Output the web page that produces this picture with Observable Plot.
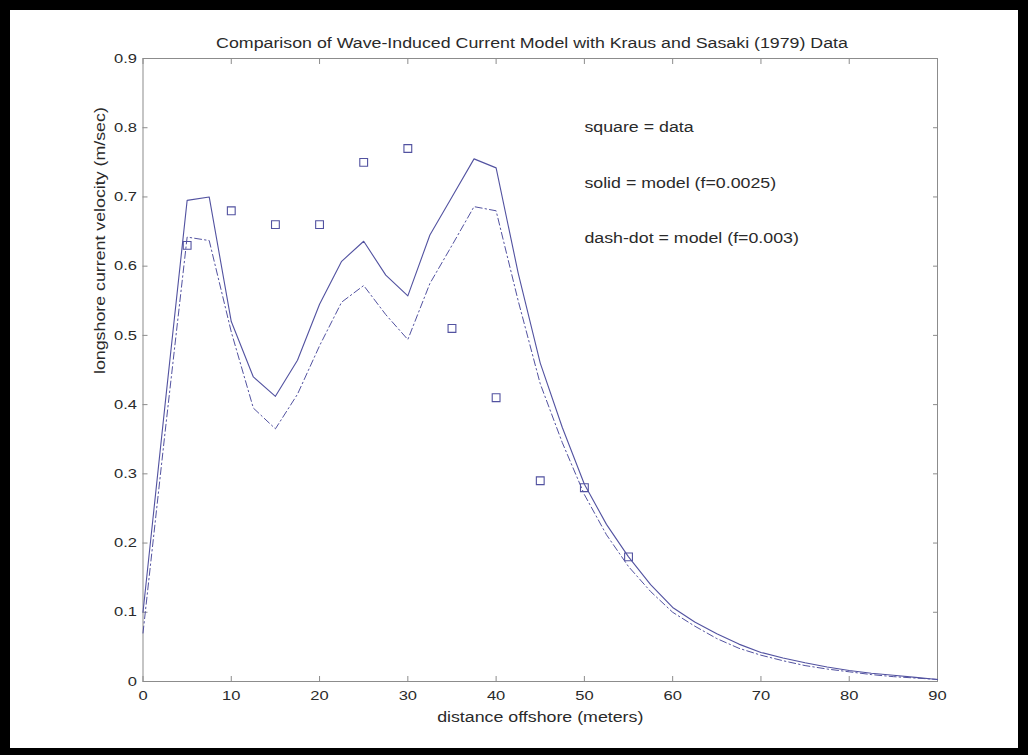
<!DOCTYPE html>
<html>
<head>
<meta charset="utf-8">
<script src="https://cdn.jsdelivr.net/npm/d3@7"></script>
<script src="https://cdn.jsdelivr.net/npm/@observablehq/plot@0.6"></script>
<style>
html, body { margin: 0; padding: 0; background: #fff; }
#wrap { position: relative; width: 1028px; height: 755px; overflow: hidden; background: #fff;
        font-family: "Liberation Sans", Arial, Helvetica, sans-serif; }
#frame { position: absolute; left: 0; top: 0; width: 1028px; height: 755px; box-sizing: border-box;
         border-style: solid; border-color: #000; border-width: 10px 10px 7px 10px; pointer-events: none; z-index: 5; }
#title { position: absolute; left: 532px; top: 35px; white-space: nowrap; font-size: 14px; color: #2a2a2a;
         transform: translateX(-50%) scaleX(1.27); transform-origin: center; line-height: 16px; }
#chart { position: absolute; left: 0; top: 50px; }
</style>
</head>
<body>
<div id="wrap">
  <div id="title">Comparison of Wave-Induced Current Model with Kraus and Sasaki (1979) Data</div>
  <div id="chart"></div>
  <div id="frame"></div>
</div>
<script>
// ---- data ----
const xModel = [0, 2.5, 5, 7.5, 10, 12.5, 15, 17.5, 20, 22.5, 25, 27.5, 30, 32.5, 35, 37.5, 40,
                42.5, 45, 47.5, 50, 52.5, 55, 57.5, 60, 62.5, 65, 67.5, 70, 72.5, 75, 77.5, 80,
                82.5, 85, 87.5, 90];
const solidModel = [0.10, 0.40, 0.695, 0.70, 0.52, 0.44, 0.412, 0.464, 0.545, 0.607, 0.636, 0.587,
                    0.557, 0.645, 0.70, 0.755, 0.742, 0.59, 0.46, 0.367, 0.285, 0.227, 0.18, 0.14,
                    0.107, 0.086, 0.069, 0.054, 0.042, 0.034, 0.027, 0.021, 0.016, 0.012, 0.009,
                    0.006, 0.003];
const dashModel = [0.07, 0.36, 0.642, 0.637, 0.505, 0.395, 0.365, 0.415, 0.485, 0.548, 0.572, 0.53,
                   0.494, 0.575, 0.63, 0.686, 0.68, 0.55, 0.43, 0.345, 0.27, 0.212, 0.166, 0.13,
                   0.10, 0.08, 0.062, 0.048, 0.038, 0.03, 0.023, 0.018, 0.014, 0.01, 0.007,
                   0.005, 0.003];
const dataX = [5, 10, 15, 20, 25, 30, 35, 40, 45, 50, 55];
const dataV = [0.63, 0.68, 0.66, 0.66, 0.75, 0.77, 0.51, 0.41, 0.29, 0.28, 0.18];
const xTicks = [0, 10, 20, 30, 40, 50, 60, 70, 80, 90];
const yTicks = [0, 0.1, 0.2, 0.3, 0.4, 0.5, 0.6, 0.7, 0.8, 0.9];
const notes = ["square = data", "solid = model (f=0.0025)", "dash-dot = model (f=0.003)"];
const noteY = [0.8, 0.72, 0.64];
const noteX = 50;
const xTitle = "distance offshore (meters)";
const yTitle = "longshore current velocity (m/sec)";

// ---- tables built from the arrays ----
const solidRows = xModel.map((x, i) => ({x, v: solidModel[i]}));
const dashRows = xModel.map((x, i) => ({x, v: dashModel[i]}));
const dataRows = dataX.map((x, i) => ({x, v: dataV[i]}));
const noteRows = notes.map((t, i) => ({x: noteX, v: noteY[i], t}));

const lineColor = "#5252a0";
const axisColor = "#8c8c8c";
const textColor = "#2a2a2a";

const chart = Plot.plot({
  width: 1028,
  height: 705,
  marginLeft: 142.5,
  marginRight: 91,
  marginTop: 8,
  marginBottom: 74,
  style: {fontFamily: "'Liberation Sans', Arial, Helvetica, sans-serif", fontSize: "13px", color: textColor, background: "transparent", overflow: "visible"},
  x: {domain: [0, 90]},
  y: {domain: [0, 0.9]},
  marks: [
    Plot.frame({stroke: axisColor}),
    // inward ticks on all four sides
    Plot.axisX(xTicks, {anchor: "bottom", tickSize: -5, tickFormat: () => "", label: null, stroke: axisColor}),
    Plot.axisX(xTicks, {anchor: "top", tickSize: -5, tickFormat: () => "", label: null, stroke: axisColor}),
    Plot.axisY(yTicks, {anchor: "left", tickSize: -5, tickFormat: () => "", label: null, stroke: axisColor}),
    Plot.axisY(yTicks, {anchor: "right", tickSize: -5, tickFormat: () => "", label: null, stroke: axisColor}),
    // tick labels
    Plot.axisX(xTicks, {anchor: "bottom", tickSize: 0, tickPadding: 9, label: null, fill: textColor, fontSize: 13, tickFormat: d => String(d)}),
    Plot.axisY(yTicks, {anchor: "left", tickSize: 0, tickPadding: 6, label: null, fill: textColor, fontSize: 13, tickFormat: d => d === 0 ? "0" : d.toFixed(1)}),
    // axis titles
    Plot.text([xTitle], {text: d => d, frameAnchor: "bottom", dy: 40, fontSize: 14, fill: textColor}),
    Plot.text([yTitle], {text: d => d, frameAnchor: "left", dx: -42, dy: 4, rotate: -90, fontSize: 14, fill: textColor}),
    // model curves
    Plot.line(solidRows, {x: "x", y: "v", stroke: lineColor, strokeWidth: 1.1}),
    Plot.line(dashRows, {x: "x", y: "v", stroke: lineColor, strokeWidth: 1, strokeDasharray: "7,3,1.5,3"}),
    // data squares
    Plot.dot(dataRows, {x: "x", y: "v", symbol: "square", r: 4.4, stroke: lineColor, strokeWidth: 1.1, fill: "none"}),
    // annotations
    Plot.text(noteRows, {x: "x", y: "v", text: "t", textAnchor: "start", fontSize: 14, fill: textColor})
  ]
});

document.getElementById("chart").append(chart);

// widen text along its reading direction to match the stretched look of the original figure
const STRETCH = 1.27;
chart.querySelectorAll("text").forEach(t => {
  if (t.querySelector("tspan")) return;
  const len = t.getComputedTextLength();
  if (!len) return;
  t.setAttribute("textLength", (len * STRETCH).toFixed(2));
  t.setAttribute("lengthAdjust", "spacingAndGlyphs");
});
</script>
</body>
</html>
